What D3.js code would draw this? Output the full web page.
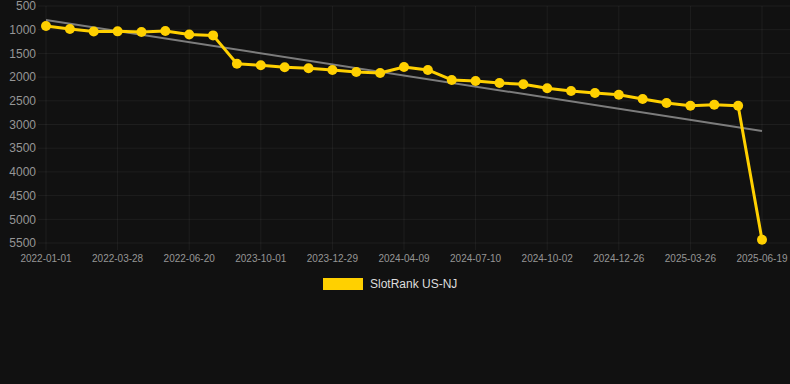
<!DOCTYPE html>
<html>
<head>
<meta charset="utf-8">
<script src="https://cdn.jsdelivr.net/npm/d3@7"></script>
<style>
  html, body { margin: 0; padding: 0; background: #111111; }
  svg { display: block; }
</style>
</head>
<body>
<svg id="chart" width="790" height="384"></svg>
<script>
// ---- data ----
const categories = [
  "2022-01-01","2022-01-29","2022-02-26","2022-03-28","2022-04-25","2022-05-23",
  "2022-06-20","2022-07-18","2023-07-05","2023-10-01","2023-10-30","2023-11-28",
  "2023-12-29","2024-01-31","2024-03-06","2024-04-09","2024-05-10","2024-06-10",
  "2024-07-10","2024-08-07","2024-09-04","2024-10-02","2024-10-30","2024-11-28",
  "2024-12-26","2025-01-24","2025-02-24","2025-03-26","2025-04-23","2025-05-21",
  "2025-06-19"
];
const rankValues = [
  922, 985, 1038, 1035, 1050, 1027, 1100, 1120, 1720, 1751, 1793, 1814,
  1850, 1892, 1913, 1787, 1850, 2061, 2082, 2124, 2150, 2237, 2293, 2335,
  2371, 2462, 2546, 2603, 2582, 2603, 5430
];
const trendValues = [795, 3137]; // trend line at first and last category
const yTicks = [500, 1000, 1500, 2000, 2500, 3000, 3500, 4000, 4500, 5000, 5500];
const seriesName = "SlotRank US-NJ";
const tickEvery = 3;

// ---- layout ----
const svg = d3.select("#chart");
const font = "Arial, 'Liberation Sans', Helvetica, sans-serif";
const gridColor = "rgba(255,255,255,0.055)";
const lineColor = "#FFD000";

const x = d3.scalePoint().domain(categories).range([46, 762]);
const y = d3.scaleLinear().domain([500, 5500]).range([6, 243]);

// horizontal grid
svg.append("g").selectAll("line").data(yTicks).join("line")
  .attr("x1", 38).attr("x2", 790)
  .attr("y1", d => y(d)).attr("y2", d => y(d))
  .attr("stroke", gridColor).attr("stroke-width", 1);

// vertical grid at shown ticks
const shownCats = categories.filter((d, i) => i % tickEvery === 0);
svg.append("g").selectAll("line").data(shownCats).join("line")
  .attr("x1", d => x(d)).attr("x2", d => x(d))
  .attr("y1", y(500)).attr("y2", y(5500) + 7)
  .attr("stroke", gridColor).attr("stroke-width", 1);

// y labels
svg.append("g").selectAll("text").data(yTicks).join("text")
  .attr("x", 36).attr("y", d => y(d))
  .attr("dy", "0.35em")
  .attr("text-anchor", "end")
  .attr("font-family", font).attr("font-size", 12)
  .attr("fill", "#969696")
  .text(d => d);

// x labels
svg.append("g").selectAll("text").data(shownCats).join("text")
  .attr("x", d => x(d)).attr("y", 262)
  .attr("text-anchor", "middle")
  .attr("font-family", font).attr("font-size", 10)
  .attr("fill", "#969696")
  .text(d => d);

// trend line
svg.append("line")
  .attr("x1", x(categories[0])).attr("y1", y(trendValues[0]))
  .attr("x2", x(categories[categories.length - 1])).attr("y2", y(trendValues[1]))
  .attr("stroke", "rgba(160,160,160,0.75)").attr("stroke-width", 2);

// series line
const pts = categories.map((c, i) => [c, rankValues[i]]);
svg.append("path")
  .datum(pts)
  .attr("d", d3.line().x(d => x(d[0])).y(d => y(d[1])))
  .attr("fill", "none").attr("stroke", lineColor)
  .attr("stroke-width", 3).attr("stroke-linejoin", "round");

svg.append("g").selectAll("circle").data(pts).join("circle")
  .attr("cx", d => x(d[0])).attr("cy", d => y(d[1]))
  .attr("r", 5).attr("fill", lineColor);

// legend
const legend = svg.append("g");
legend.append("rect")
  .attr("x", 323).attr("y", 278).attr("width", 40).attr("height", 12)
  .attr("fill", lineColor);
legend.append("text")
  .attr("x", 370).attr("y", 284).attr("dy", "0.35em")
  .attr("font-family", font).attr("font-size", 12)
  .attr("fill", "#ddd")
  .text(seriesName);
</script>
</body>
</html>
